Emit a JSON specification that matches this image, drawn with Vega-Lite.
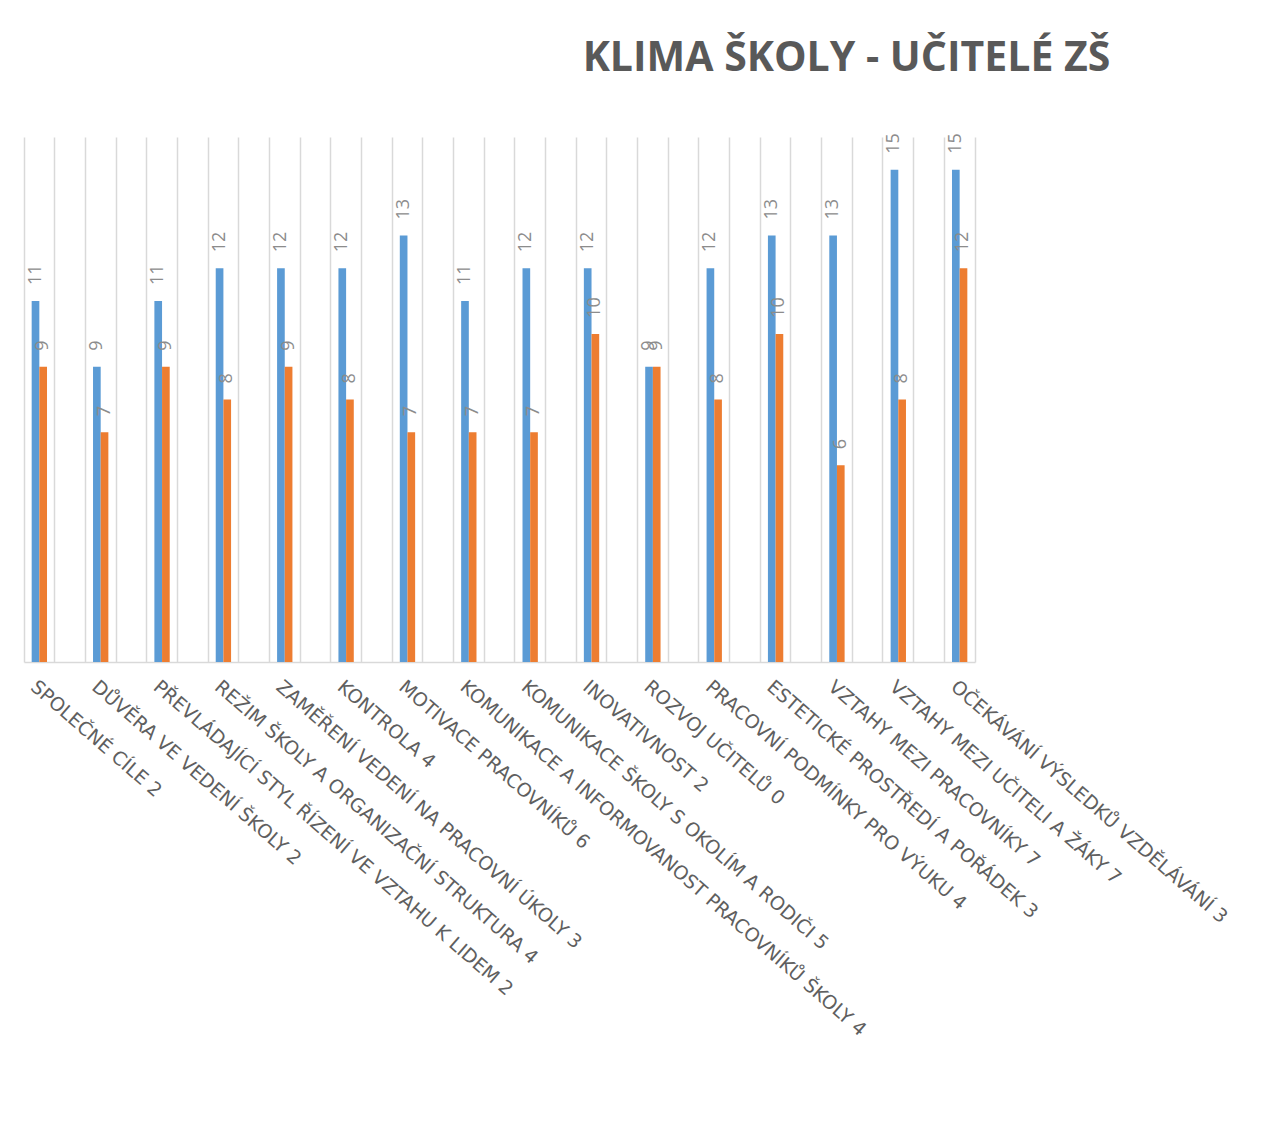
{
  "$schema": "https://vega.github.io/schema/vega-lite/v6.json",
  "width": 951,
  "height": 525,
  "autosize": "none",
  "padding": {"left": 24, "top": 137, "right": 309, "bottom": 480},
  "background": "white",
  "title": {
    "text": "KLIMA ŠKOLY - UČITELÉ ZŠ",
    "anchor": "middle",
    "frame": "group",
    "dx": 347,
    "offset": 21,
    "baseline": "alphabetic",
    "font": "Open Sans",
    "fontSize": 41,
    "fontWeight": "bold",
    "color": "#595959"
  },
  "data": {
    "values": [
      {"kategorie": "SPOLEČNÉ CÍLE 2", "serie": "1", "hodnota": 11},
      {"kategorie": "SPOLEČNÉ CÍLE 2", "serie": "2", "hodnota": 9},
      {"kategorie": "DŮVĚRA VE VEDENÍ ŠKOLY 2", "serie": "1", "hodnota": 9},
      {"kategorie": "DŮVĚRA VE VEDENÍ ŠKOLY 2", "serie": "2", "hodnota": 7},
      {"kategorie": "PŘEVLÁDAJÍCÍ STYL ŘÍZENÍ VE VZTAHU K LIDEM 2", "serie": "1", "hodnota": 11},
      {"kategorie": "PŘEVLÁDAJÍCÍ STYL ŘÍZENÍ VE VZTAHU K LIDEM 2", "serie": "2", "hodnota": 9},
      {"kategorie": "REŽIM ŠKOLY A ORGANIZAČNÍ STRUKTURA 4", "serie": "1", "hodnota": 12},
      {"kategorie": "REŽIM ŠKOLY A ORGANIZAČNÍ STRUKTURA 4", "serie": "2", "hodnota": 8},
      {"kategorie": "ZAMĚŘENÍ VEDENÍ NA PRACOVNÍ ÚKOLY 3", "serie": "1", "hodnota": 12},
      {"kategorie": "ZAMĚŘENÍ VEDENÍ NA PRACOVNÍ ÚKOLY 3", "serie": "2", "hodnota": 9},
      {"kategorie": "KONTROLA 4", "serie": "1", "hodnota": 12},
      {"kategorie": "KONTROLA 4", "serie": "2", "hodnota": 8},
      {"kategorie": "MOTIVACE PRACOVNÍKŮ 6", "serie": "1", "hodnota": 13},
      {"kategorie": "MOTIVACE PRACOVNÍKŮ 6", "serie": "2", "hodnota": 7},
      {"kategorie": "KOMUNIKACE A INFORMOVANOST PRACOVNÍKŮ ŠKOLY 4", "serie": "1", "hodnota": 11},
      {"kategorie": "KOMUNIKACE A INFORMOVANOST PRACOVNÍKŮ ŠKOLY 4", "serie": "2", "hodnota": 7},
      {"kategorie": "KOMUNIKACE ŠKOLY S OKOLÍM A RODIČI 5", "serie": "1", "hodnota": 12},
      {"kategorie": "KOMUNIKACE ŠKOLY S OKOLÍM A RODIČI 5", "serie": "2", "hodnota": 7},
      {"kategorie": "INOVATIVNOST 2", "serie": "1", "hodnota": 12},
      {"kategorie": "INOVATIVNOST 2", "serie": "2", "hodnota": 10},
      {"kategorie": "ROZVOJ UČITELŮ 0", "serie": "1", "hodnota": 9},
      {"kategorie": "ROZVOJ UČITELŮ 0", "serie": "2", "hodnota": 9},
      {"kategorie": "PRACOVNÍ PODMÍNKY PRO VÝUKU 4", "serie": "1", "hodnota": 12},
      {"kategorie": "PRACOVNÍ PODMÍNKY PRO VÝUKU 4", "serie": "2", "hodnota": 8},
      {"kategorie": "ESTETICKÉ PROSTŘEDÍ A POŘÁDEK 3", "serie": "1", "hodnota": 13},
      {"kategorie": "ESTETICKÉ PROSTŘEDÍ A POŘÁDEK 3", "serie": "2", "hodnota": 10},
      {"kategorie": "VZTAHY MEZI PRACOVNÍKY 7", "serie": "1", "hodnota": 13},
      {"kategorie": "VZTAHY MEZI PRACOVNÍKY 7", "serie": "2", "hodnota": 6},
      {"kategorie": "VZTAHY MEZI UČITELI A ŽÁKY 7", "serie": "1", "hodnota": 15},
      {"kategorie": "VZTAHY MEZI UČITELI A ŽÁKY 7", "serie": "2", "hodnota": 8},
      {"kategorie": "OČEKÁVÁNÍ VÝSLEDKŮ VZDĚLÁVÁNÍ 3", "serie": "1", "hodnota": 15},
      {"kategorie": "OČEKÁVÁNÍ VÝSLEDKŮ VZDĚLÁVÁNÍ 3", "serie": "2", "hodnota": 12}
    ]
  },
  "encoding": {
    "x": {
      "field": "kategorie",
      "type": "nominal",
      "sort": null,
      "scale": {
        "domain": [
          "SPOLEČNÉ CÍLE 2", "_1",
          "DŮVĚRA VE VEDENÍ ŠKOLY 2", "_2",
          "PŘEVLÁDAJÍCÍ STYL ŘÍZENÍ VE VZTAHU K LIDEM 2", "_3",
          "REŽIM ŠKOLY A ORGANIZAČNÍ STRUKTURA 4", "_4",
          "ZAMĚŘENÍ VEDENÍ NA PRACOVNÍ ÚKOLY 3", "_5",
          "KONTROLA 4", "_6",
          "MOTIVACE PRACOVNÍKŮ 6", "_7",
          "KOMUNIKACE A INFORMOVANOST PRACOVNÍKŮ ŠKOLY 4", "_8",
          "KOMUNIKACE ŠKOLY S OKOLÍM A RODIČI 5", "_9",
          "INOVATIVNOST 2", "_10",
          "ROZVOJ UČITELŮ 0", "_11",
          "PRACOVNÍ PODMÍNKY PRO VÝUKU 4", "_12",
          "ESTETICKÉ PROSTŘEDÍ A POŘÁDEK 3", "_13",
          "VZTAHY MEZI PRACOVNÍKY 7", "_14",
          "VZTAHY MEZI UČITELI A ŽÁKY 7", "_15",
          "OČEKÁVÁNÍ VÝSLEDKŮ VZDĚLÁVÁNÍ 3"
        ],
        "paddingInner": 0,
        "paddingOuter": 0
      },
      "axis": {
        "title": null,
        "orient": "bottom",
        "domain": true,
        "domainColor": "#d9d9d9",
        "domainWidth": 1.5,
        "ticks": false,
        "grid": true,
        "gridColor": "#d9d9d9",
        "gridWidth": 1.5,
        "bandPosition": 0,
        "labelAngle": 41,
        "labelAlign": "left",
        "labelBaseline": "top",
        "labelFont": "DejaVu Sans",
        "labelFontSize": 19,
        "labelColor": "#5f5f5f",
        "labelPadding": 15,
        "labelLimit": 0,
        "labelOverlap": false,
        "labelExpr": "indexof(datum.label, '_') == 0 ? '' : datum.label"
      }
    },
    "xOffset": {
      "field": "serie",
      "type": "nominal",
      "scale": {"paddingInner": 0, "paddingOuter": 2.41}
    },
    "y": {
      "field": "hodnota",
      "type": "quantitative",
      "scale": {"domain": [0, 16], "nice": false, "zero": true},
      "axis": {
        "orient": "right",
        "title": null,
        "labels": false,
        "ticks": false,
        "grid": false,
        "domain": true,
        "domainColor": "#d9d9d9",
        "domainWidth": 1.5
      }
    }
  },
  "layer": [
    {
      "mark": {"type": "bar"},
      "encoding": {
        "color": {
          "field": "serie",
          "type": "nominal",
          "scale": {"domain": ["1", "2"], "range": ["#5b9bd5", "#ed7d31"]},
          "legend": null
        }
      }
    },
    {
      "mark": {
        "type": "text",
        "angle": 270,
        "align": "left",
        "baseline": "middle",
        "dx": 16,
        "font": "Open Sans",
        "fontSize": 18,
        "color": "#8c8c8c"
      },
      "encoding": {
        "text": {"field": "hodnota", "type": "quantitative"}
      }
    }
  ],
  "config": {
    "view": {"stroke": null}
  }
}
